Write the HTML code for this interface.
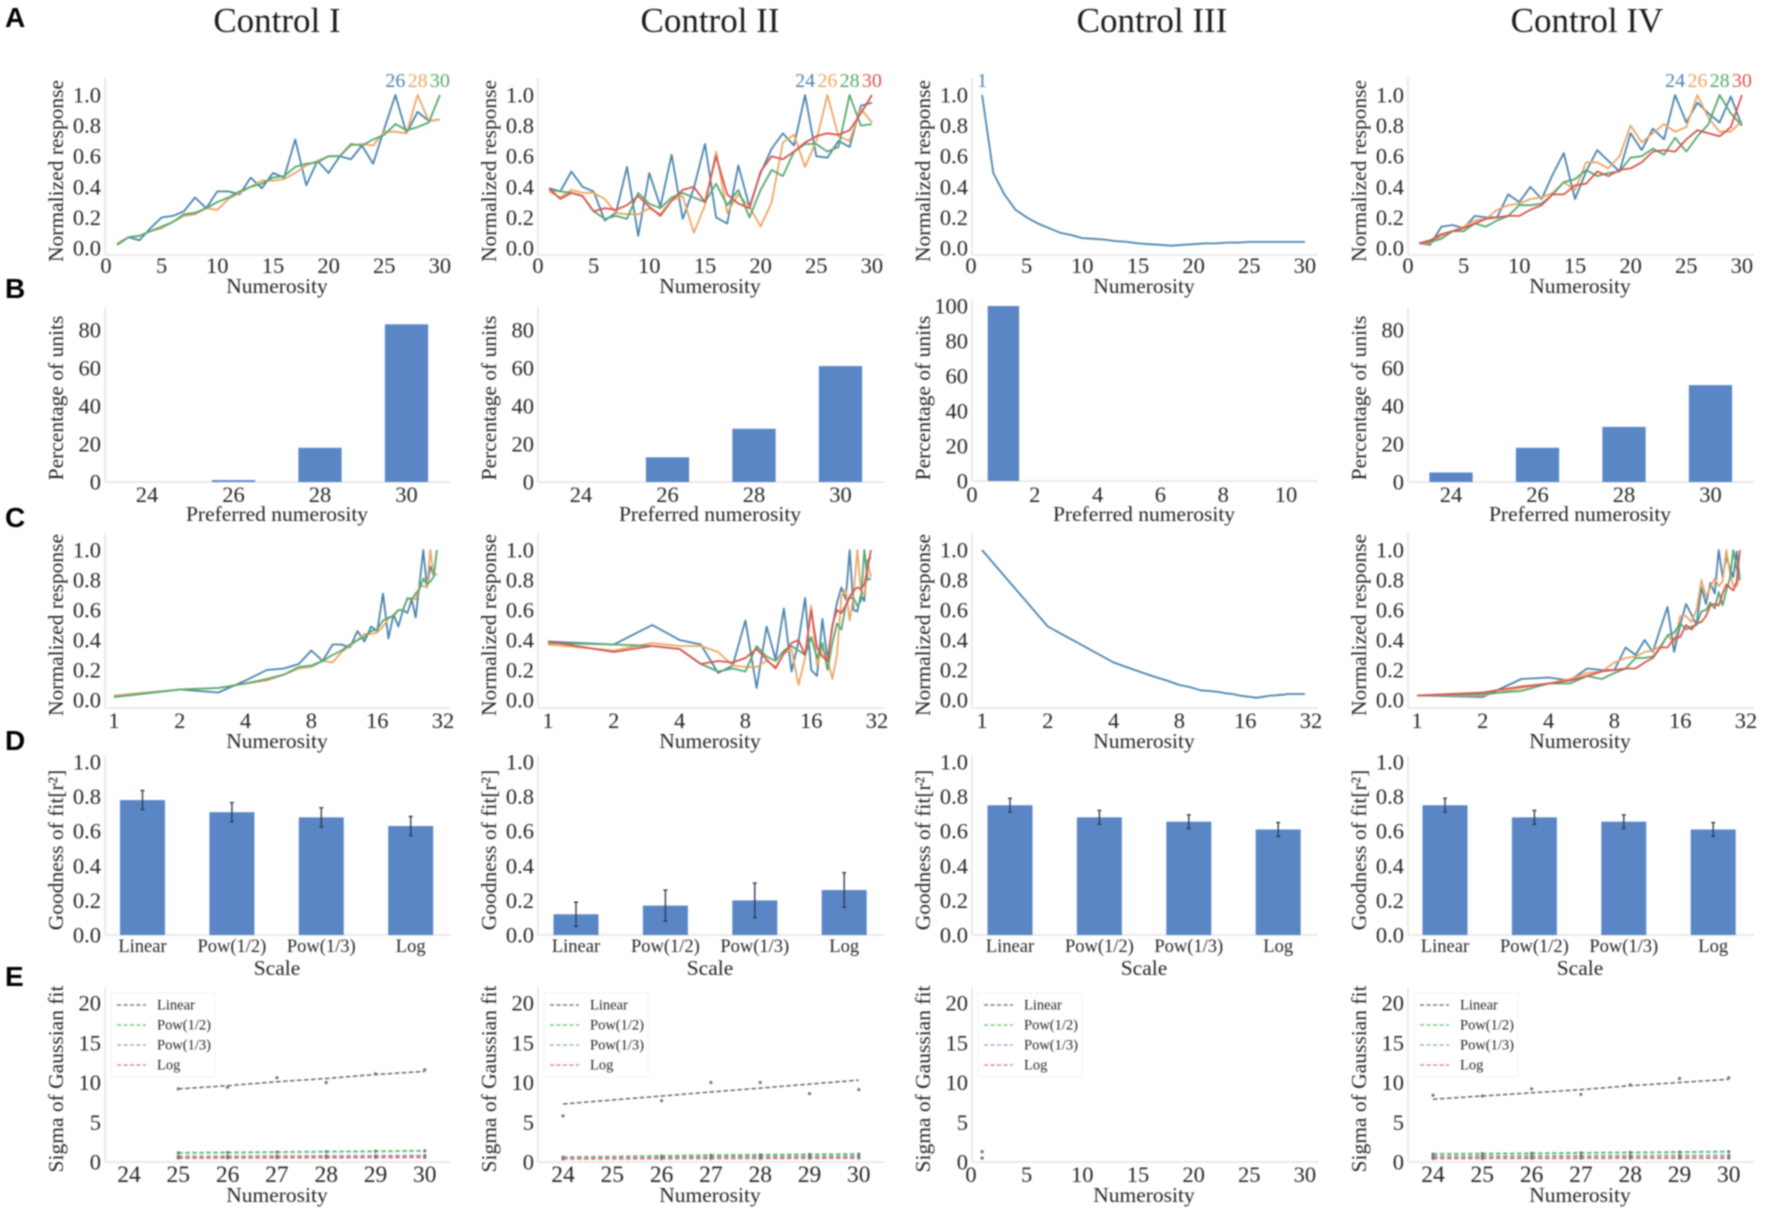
<!DOCTYPE html>
<html lang="en">
<head>
<meta charset="utf-8">
<title>Numerosity tuning controls</title>
<style>
html,body{margin:0;padding:0;background:#fff;}
svg{display:block;filter:blur(0.7px);}
text{font-family:"Liberation Serif",serif;fill:#262626;}
.letter{font-family:"Liberation Sans",sans-serif;font-weight:700;font-size:28px;fill:#000;}
.title{font-size:35px;fill:#1a1a1a;text-anchor:middle;}
</style>
</head>
<body>
<svg id="figure" xmlns="http://www.w3.org/2000/svg" width="1772" height="1213" viewBox="0 0 1772 1213">
  <rect width="1772" height="1213" fill="#fff"/>
  <text class="letter" x="5" y="27">A</text>
  <text class="letter" x="5" y="298">B</text>
  <text class="letter" x="5" y="527">C</text>
  <text class="letter" x="5" y="750">D</text>
  <text class="letter" x="5" y="986">E</text>
  <text class="title" x="277" y="32">Control I</text>
  <text class="title" x="710" y="32">Control II</text>
  <text class="title" x="1152" y="32">Control III</text>
  <text class="title" x="1587" y="32">Control IV</text>
</svg>
<script>
// ---------- Tuning curve data (normalized response at numerosity 1..30) ----------
const numerosities = [1,2,3,4,5,6,7,8,9,10,11,12,13,14,15,16,17,18,19,20,21,22,23,24,25,26,27,28,29,30];

const controlI_26 = [.02,.07,.05,.13,.20,.21,.24,.33,.26,.37,.37,.35,.46,.39,.49,.46,.71,.41,.57,.49,.60,.58,.67,.55,.78,1.0,.75,.89,.83,.84];
const controlI_28 = [.03,.07,.08,.11,.13,.17,.21,.22,.26,.25,.32,.36,.40,.44,.44,.45,.49,.54,.57,.60,.60,.67,.68,.67,.76,.76,.75,1.0,.83,.84];
const controlI_30 = [.02,.07,.08,.11,.14,.17,.22,.23,.26,.30,.33,.37,.40,.42,.46,.47,.53,.55,.56,.60,.60,.68,.67,.71,.74,.81,.77,.79,.82,1.0];

const controlII_24 = [.39,.37,.50,.40,.37,.18,.23,.53,.08,.49,.27,.61,.19,.39,.68,.20,.16,.54,.27,.49,.65,.75,.67,1.0,.60,.59,.70,.66,.93,.95];
const controlII_26 = [.37,.33,.38,.36,.36,.32,.23,.22,.22,.26,.22,.31,.34,.10,.28,.63,.23,.35,.27,.14,.30,.69,.74,.53,.70,1.0,.73,.70,.91,.82];
const controlII_28 = [.38,.37,.36,.34,.24,.19,.21,.19,.36,.29,.26,.33,.36,.33,.30,.42,.28,.38,.20,.38,.51,.47,.63,.68,.68,.63,.66,1.0,.80,.81];
const controlII_30 = [.39,.32,.36,.34,.24,.26,.25,.28,.34,.27,.21,.31,.38,.40,.30,.60,.35,.29,.26,.50,.60,.58,.63,.69,.73,.75,.74,.77,.88,1.0];

const controlIII_1 = [1.0,.49,.35,.25,.20,.16,.13,.10,.085,.065,.06,.055,.045,.04,.03,.025,.02,.015,.02,.025,.03,.03,.035,.035,.04,.04,.04,.04,.04,.04];

const controlIV_24 = [.03,.02,.14,.15,.13,.21,.20,.20,.35,.30,.40,.32,.48,.62,.32,.50,.64,.57,.50,.75,.64,.78,.71,1.0,.82,.95,.88,.82,.99,.80];
const controlIV_26 = [.03,.03,.08,.11,.14,.18,.19,.25,.28,.29,.32,.33,.36,.43,.38,.56,.56,.52,.60,.80,.69,.75,.81,.76,.79,1.0,.85,.76,.76,.83];
const controlIV_28 = [.03,.04,.06,.11,.11,.16,.14,.18,.21,.28,.28,.29,.35,.43,.45,.51,.47,.49,.50,.59,.60,.65,.61,.72,.63,.73,.81,1.0,.88,.80];
const controlIV_30 = [.03,.05,.09,.11,.13,.16,.19,.20,.21,.21,.25,.28,.35,.35,.41,.42,.50,.47,.51,.52,.56,.63,.64,.63,.71,.77,.75,.73,.79,1.0];

// ---------- Preferred numerosity distributions ----------
const preferredCategories = [24,26,28,30];
const preferredI = [0,1,18,83];
const preferredII = [0,13,28,61];
const preferredIII = [100];
const preferredIIICategories = [1];
const preferredIV = [5,18,29,51];

// ---------- Goodness of fit ----------
const scaleNames = ['Linear','Pow(1/2)','Pow(1/3)','Log'];
const fitI = [.78,.71,.68,.63];
const fitIErr = [.055,.055,.055,.055];
const fitII = [.12,.17,.20,.26];
const fitIIErr = [.07,.09,.10,.10];
const fitIII = [.75,.68,.655,.61];
const fitIIIErr = [.04,.04,.04,.04];
const fitIV = [.75,.68,.655,.61];
const fitIVErr = [.04,.04,.04,.04];

// ---------- Sigma of Gaussian fit ----------
const sigmaNumsI = [25,26,27,28,29,30];
const sigmaLinearI = [9.2,9.4,10.6,10.0,11.1,11.6];
const sigmaLinearFitI = [9.2,9.6,10.1,10.5,11.0,11.4];
const sigmaPow2I = [1.15,1.2,1.25,1.3,1.35,1.4];
const sigmaPow3I = [.7,.72,.74,.76,.78,.8];
const sigmaLogI = [.5,.52,.54,.56,.58,.6];

const sigmaNumsII = [24,26,27,28,29,30];
const sigmaLinearII = [5.8,7.7,10.0,10.0,8.6,9.1];
const sigmaLinearFitII = [7.3,8.3,8.8,9.3,9.8,10.3];
const sigmaPow2II = [.6,.75,.85,.9,.95,1.0];
const sigmaPow3II = [.5,.58,.62,.65,.68,.7];
const sigmaLogII = [.4,.44,.46,.47,.49,.5];

const sigmaNumsIII = [1];
const sigmaLinearIII = [1.3];
const sigmaLinearFitIII = [1.3];
const sigmaPow2III = [1.3];
const sigmaPow3III = [.5];
const sigmaLogIII = [.5];

const sigmaNumsIV = [24,25,26,27,28,29,30];
const sigmaLinearIV = [8.4,8.3,9.2,8.5,9.7,10.5,10.6];
const sigmaLinearFitIV = [7.9,8.3,8.7,9.1,9.6,10.0,10.4];
const sigmaPow2IV = [1.0,1.05,1.1,1.15,1.2,1.25,1.3];
const sigmaPow3IV = [.7,.72,.74,.76,.78,.8,.8];
const sigmaLogIV = [.45,.46,.47,.48,.5,.5,.5];

// ---------- Tick labels ----------
const linearTicks = [0,5,10,15,20,25,30];
const logTicks = [1,2,4,8,16,32];
const responseTicks = [0,.2,.4,.6,.8,1.0];
const percentTicks = [0,20,40,60,80];
const percentTicksIII = [0,20,40,60,80,100];
const preferredTicksIII = [0,2,4,6,8,10];
const sigmaTicks = [0,5,10,15,20];
const sigmaTickNums = [24,25,26,27,28,29,30];

// ---------- Series groupings per column ----------
const curveSets = [
  [{num:26,vals:controlI_26},{num:28,vals:controlI_28},{num:30,vals:controlI_30}],
  [{num:24,vals:controlII_24},{num:26,vals:controlII_26},{num:28,vals:controlII_28},{num:30,vals:controlII_30}],
  [{num:1,vals:controlIII_1}],
  [{num:24,vals:controlIV_24},{num:26,vals:controlIV_26},{num:28,vals:controlIV_28},{num:30,vals:controlIV_30}]
];
const preferredSets = [preferredI,preferredII,preferredIII,preferredIV];
const fitSets = [fitI,fitII,fitIII,fitIV];
const fitErrSets = [fitIErr,fitIIErr,fitIIIErr,fitIVErr];
const sigmaSets = [
  {nums:sigmaNumsI,lin:sigmaLinearI,fit:sigmaLinearFitI,p2:sigmaPow2I,p3:sigmaPow3I,log:sigmaLogI},
  {nums:sigmaNumsII,lin:sigmaLinearII,fit:sigmaLinearFitII,p2:sigmaPow2II,p3:sigmaPow3II,log:sigmaLogII},
  {nums:sigmaNumsIII,lin:sigmaLinearIII,fit:sigmaLinearFitIII,p2:sigmaPow2III,p3:sigmaPow3III,log:sigmaLogIII},
  {nums:sigmaNumsIV,lin:sigmaLinearIV,fit:sigmaLinearFitIV,p2:sigmaPow2IV,p3:sigmaPow3IV,log:sigmaLogIV}
];

// ---------- Layout ----------
const NS = 'http://www.w3.org/2000/svg';
const fig = document.getElementById('figure');
const colLeft = [105,538,972,1408];
const colX0 = [106,538,971,1408];
const logX0 = [114,548,982,1417];
const sigmaX24 = [129,563,0,1433];
const barX24 = [147,581,0,1451];
const barXD = [142.5,576,1010,1445];
const lineColors = {1:'#4a84ad',24:'#4a84ad',26:'#eba766',28:'#55a86f',30:'#d9534f'};
const lineColorsI = {26:'#4a84ad',28:'#eba766',30:'#55a86f'};
const BAR = '#5a86c6';

function make(tag, attrs, parent) {
  const el = document.createElementNS(NS, tag);
  for (const k in attrs) el.setAttribute(k, attrs[k]);
  parent.appendChild(el);
  return el;
}
function panelGroup(row, col) {
  const g = make('g', {}, fig);
  
  
  return g;
}
function spines(g, col, top, bottom, width) {
  const l = make('line', {x1:colLeft[col],x2:colLeft[col],y1:top,y2:bottom,stroke:'#e4e4e4','stroke-width':1.5}, g);
  
  
  const b = make('line', {x1:colLeft[col],x2:colLeft[col]+width,y1:bottom,y2:bottom,stroke:'#e4e4e4','stroke-width':1.5}, g);
  
  
}
function yTick(g, col, y, str) {
  const t = make('text', {x:colLeft[col]-4,y:y+7.5,'font-size':22.5,'text-anchor':'end'}, g);
  t.textContent = str;
  
  
}
function xTick(g, x, y, str, size) {
  const t = make('text', {x:x,y:y,'font-size':size,'text-anchor':'middle'}, g);
  t.textContent = str;
  
  
}
function xTitle(g, col, y, str) {
  const t = make('text', {x:colLeft[col]+172,y:y,'font-size':21.5,'text-anchor':'middle'}, g);
  t.textContent = str;
  
  
}
function yTitle(g, col, cy, str) {
  const bx = colLeft[col]-42;
  const t = make('text', {x:bx,y:cy,'font-size':21.5,'text-anchor':'middle',transform:'rotate(-90 '+bx+' '+cy+')'}, g);
  t.textContent = str;
  
  
}
function polyline(g, pts, color, w, dash) {
  const attrs = {points:pts.map(p=>p[0].toFixed(1)+','+p[1].toFixed(1)).join(' '),fill:'none',stroke:color,'stroke-width':w,'stroke-linejoin':'round'};
  if (dash) attrs['stroke-dasharray'] = dash;
  return make('polyline', attrs, g);
}

// ---------- Row A: linear-scale tuning curves ----------
function drawRowA(col) {
  const g = panelGroup('a', col);
  const xS = v => colX0[col] + v * 11.13;
  const yS = v => 248 - 153 * v;
  spines(g, col, 78, 255, 346);
  responseTicks.forEach(v => yTick(g, col, yS(v), v.toFixed(1)));
  linearTicks.forEach(v => xTick(g, xS(v), 273, String(v), 22.5));
  xTitle(g, col, 293, 'Numerosity');
  yTitle(g, col, 171, 'Normalized response');
  const colors = col === 0 ? lineColorsI : lineColors;
  curveSets[col].forEach(s => {
    const line = polyline(g, numerosities.map((n,i)=>[xS(n), yS(s.vals[i])]), colors[s.num], 1.8);
    
    
    const t = make('text', {x:xS(s.num),y:87,'font-size':20,'text-anchor':'middle',style:'fill:'+colors[s.num]}, g);
    t.textContent = String(s.num);
    
    
  });
}

// ---------- Row B: preferred numerosity bars ----------
function drawRowB(col) {
  const g = panelGroup('b', col);
  const isIII = col === 2;
  const yS = isIII ? (v => 481 - 1.75 * v) : (v => 482 - 1.9 * v);
  const xS = isIII ? (v => 972 + 31.4 * v) : (v => barX24[col] + (v - 24) * 43.25);
  const bottom = isIII ? 481 : 482;
  spines(g, col, isIII ? 300 : 307, bottom, 346);
  (isIII ? percentTicksIII : percentTicks).forEach(v => yTick(g, col, yS(v), String(v)));
  (isIII ? preferredTicksIII : preferredCategories).forEach(v => xTick(g, xS(v), 502, String(v), 22.5));
  xTitle(g, col, 521, 'Preferred numerosity');
  yTitle(g, col, 398, 'Percentage of units');
  const cats = isIII ? preferredIIICategories : preferredCategories;
  const w = isIII ? 31.4 : 43.25;
  preferredSets[col].forEach((v,i) => {
    const bar = make('rect', {x:xS(cats[i])-w/2,y:yS(v),width:w,height:Math.max(0,yS(0)-yS(v)),fill:BAR}, g);
    
    
  });
}

// ---------- Row C: log-scale tuning curves ----------
function drawRowC(col) {
  const g = panelGroup('c', col);
  const xS = v => logX0[col] + 65.8 * Math.log2(v);
  const yS = v => 700 - 150 * v;
  spines(g, col, 533, 708, 346);
  responseTicks.forEach(v => yTick(g, col, yS(v), v.toFixed(1)));
  logTicks.forEach(v => xTick(g, xS(v), 728, String(v), 22.5));
  xTitle(g, col, 748, 'Numerosity');
  yTitle(g, col, 625, 'Normalized response');
  const colors = col === 0 ? lineColorsI : lineColors;
  curveSets[col].forEach(s => {
    const line = polyline(g, numerosities.map((n,i)=>[xS(n), yS(s.vals[i])]), colors[s.num], 1.8);
    
    
  });
}

// ---------- Row D: goodness of fit bars ----------
function drawRowD(col) {
  const g = panelGroup('d', col);
  const yS = v => 935 - 173 * v;
  const xS = i => barXD[col] + i * 89.4;
  spines(g, col, 755, 935, 346);
  responseTicks.forEach(v => yTick(g, col, yS(v), v.toFixed(1)));
  scaleNames.forEach((n,i) => xTick(g, xS(i), 952, n, 18.5));
  xTitle(g, col, 975, 'Scale');
  yTitle(g, col, 850, 'Goodness of fit[r²]');
  fitSets[col].forEach((v,i) => {
    const bar = make('rect', {x:xS(i)-22.5,y:yS(v),width:45,height:yS(0)-yS(v),fill:BAR}, g);
    
    
    const e = fitErrSets[col][i];
    const err = make('path', {d:'M'+xS(i)+' '+yS(v-e)+'V'+yS(v+e)+'M'+(xS(i)-2)+' '+yS(v+e)+'h4M'+(xS(i)-2)+' '+yS(v-e)+'h4',stroke:'#2f3d55','stroke-width':1.4,fill:'none'}, g);
    
    
  });
}

// ---------- Row E: sigma vs numerosity ----------
function drawRowE(col) {
  const g = panelGroup('e', col);
  const isIII = col === 2;
  const yS = v => 1162 - 7.95 * v;
  const xS = isIII ? (v => 971 + 11.13 * v) : (v => sigmaX24[col] + (v - 24) * 49.3);
  spines(g, col, 987, 1162, 346);
  sigmaTicks.forEach(v => yTick(g, col, yS(v), String(v)));
  (isIII ? linearTicks : sigmaTickNums).forEach(v => xTick(g, xS(v), 1182, String(v), isIII ? 22.5 : 23.5));
  xTitle(g, col, 1202, 'Numerosity');
  yTitle(g, col, 1079, 'Sigma of Gaussian fit');
  const s = sigmaSets[col];
  const blueish = (col === 1 || col === 3) ? '#7fa7c4' : '#9a9ad2';
  const series = [
    {label:'Linear',color:'#666',line:s.fit,pts:s.lin,w:1.5},
    {label:'Pow(1/2)',color:'#62c06a',line:s.p2,pts:s.p2,w:2},
    {label:'Pow(1/3)',color:blueish,line:s.p3,pts:s.p3,w:2},
    {label:'Log',color:'#e2726f',line:s.log,pts:s.log,w:2}
  ];
  series.forEach(se => {
    if (s.nums.length > 1) {
      const line = polyline(g, s.nums.map((n,i)=>[xS(n), yS(se.line[i])]), se.color, se.w, '4.5 2.5');
      
      
    }
    se.pts.forEach((v,i) => {
      const dot = make('circle', {cx:xS(s.nums[i]),cy:yS(v),r:1.6,fill:'#777'}, g);
      
      
    });
  });
  // legend
  const lx = colLeft[col];
  const legend = make('g', {}, g);
  
  
  const box = make('rect', {x:lx+6,y:993,width:104,height:84,fill:'#fff',stroke:'#f4f4f4','stroke-width':1}, legend);
  
  
  series.forEach((se,i) => {
    const yy = 1005 + i * 20;
    const sw = make('line', {x1:lx+12,x2:lx+41,y1:yy,y2:yy,stroke:se.color,'stroke-width':1.4,'stroke-dasharray':'4 2.5',opacity:0.85}, legend);
    
    
    const t = make('text', {x:lx+52,y:yy+4.5,'font-size':14.5}, legend);
    t.textContent = se.label;
    
    
  });
}

[0,1,2,3].forEach(col => {
  drawRowA(col);
  drawRowB(col);
  drawRowC(col);
  drawRowD(col);
  drawRowE(col);
});
</script>
</body>
</html>
